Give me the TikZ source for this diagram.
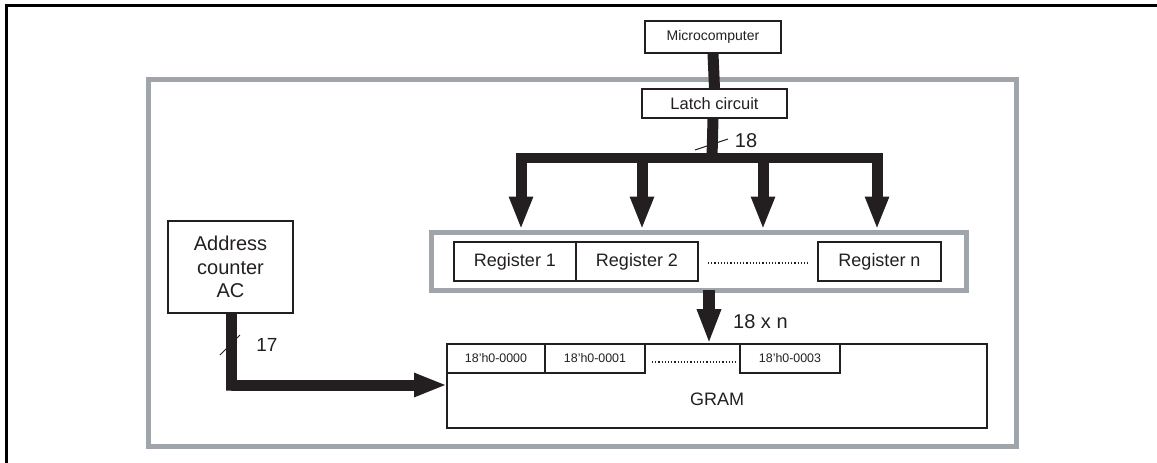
\documentclass[tikz,border=0pt]{standalone}
\usepackage{fontspec}
\setmainfont{Liberation Sans}
\usetikzlibrary{arrows.meta}
\definecolor{framegray}{RGB}{160,164,171}
\definecolor{ink}{RGB}{35,31,32}
\begin{document}
\begin{tikzpicture}[x=1pt,y=-1pt,
  box/.style={draw=ink, line width=1.3pt, inner sep=0pt, align=center, text=ink},
  grayframe/.style={draw=framegray, line width=5pt, inner sep=0pt},
  bus/.style={draw=ink, line width=11pt},
  busarrow/.style={draw=ink, line width=11pt, -{Triangle[width=22pt,length=33pt]}},
  slash/.style={draw=ink, line width=1pt},
  lbl/.style={text=ink, inner sep=0pt},
  dots/.style={draw=ink, line width=1.2pt, dotted}]
\useasboundingbox (0,0) rectangle (1157,463);
% outer black frame (only top and left edges visible)
\draw[black, line width=3pt] (6,463) -- (6,5.5) -- (1157,5.5);
% large gray frame
\node[grayframe, minimum width=868pt, minimum height=367pt] (chip) at (582,262.5) {};
% boxes
\node[box, minimum width=136pt, minimum height=32pt, font=\fontsize{14}{16}\selectfont] (micro) at (713,37) {Microcomputer};
\node[box, minimum width=145pt, minimum height=29pt, font=\fontsize{16.5}{18}\selectfont] (latch) at (714.5,103.5) {Latch circuit};
\node[grayframe, minimum width=535pt, minimum height=58pt] (regbox) at (698.5,261) {};
\node[box, minimum width=122pt, minimum height=39pt, font=\fontsize{18}{20}\selectfont] (r1) at (515,261.5) {Register 1};
\node[box, minimum width=122pt, minimum height=39pt, font=\fontsize{18}{20}\selectfont] (r2) at (637,261.5) {Register 2};
\node[box, minimum width=123pt, minimum height=39pt, font=\fontsize{18}{20}\selectfont] (rn) at (879.5,261.5) {Register n};
\draw[dots] (708,263) -- (809,263);
\node[box, minimum width=125pt, minimum height=92pt, font=\fontsize{20}{23.5}\selectfont] (ac) at (230.5,267) {Address\\counter\\AC};
\node[box, minimum width=540pt, minimum height=84pt] (gram) at (717,386) {};
\node[lbl, font=\fontsize{18}{20}\selectfont] (gramlbl) at (717,399) {GRAM};
\node[box, minimum width=98pt, minimum height=29pt, font=\fontsize{12.4}{14}\selectfont] (c0) at (496,358.5) {18’h0-0000};
\node[box, minimum width=100pt, minimum height=29pt, font=\fontsize{12.4}{14}\selectfont] (c1) at (595,358.5) {18’h0-0001};
\node[box, minimum width=100pt, minimum height=29pt, font=\fontsize{12.4}{14}\selectfont] (c3) at (790,358.5) {18’h0-0003};
\draw[dots] (652,362) -- (737,362);
% buses
\draw[bus] (micro.south) -- (latch.north);
\coordinate (j) at (712,158);
\draw[bus] ([xshift=-1.5pt]latch.south) -- (j);
\draw[draw=ink, line width=10pt] (516,158) -- (882,158);
\foreach \x/\n in {521/a,642/b,763/c,877/d}{
  \coordinate (s\n) at (\x,153);
  \coordinate (t\n) at (\x,229.5);
  \draw[busarrow] (s\n) -- (t\n);
}
\draw[slash] (695,150) -- (728,139);
\node[lbl, font=\fontsize{20}{22}\selectfont] (n18) at (746,141) {18};
% registers to GRAM
\coordinate (rb) at (709,290);
\coordinate (gt) at (709,344);
\draw[draw=ink, line width=12pt, -{Triangle[width=22pt,length=35pt]}] (rb) -- (gt);
\node[lbl, font=\fontsize{20}{22}\selectfont, anchor=west] (n18n) at (733,322) {18 x n};
% address counter to GRAM
\coordinate (acb) at (231.5,313);
\coordinate (corner) at (231.5,385);
\coordinate (gl) at (447,385);
\draw[busarrow, line join=miter] (acb) -- (231.5,390.5) -- (231.5,385) -- (gl);
\draw[slash] (220,355) -- (240,335);
\node[lbl, font=\fontsize{19}{21}\selectfont] (n17) at (267,345) {17};
\end{tikzpicture}
\end{document}
